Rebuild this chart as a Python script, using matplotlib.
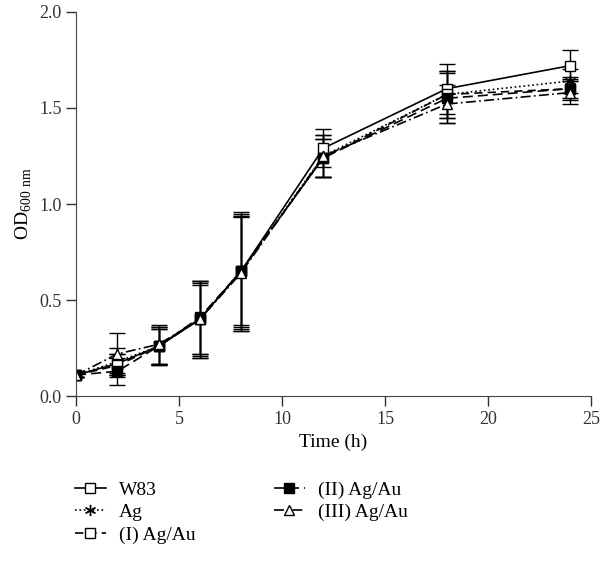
import numpy as np
import matplotlib.pyplot as plt
from matplotlib.lines import Line2D

plt.rcParams['font.family'] = ['Liberation Serif', 'DejaVu Serif']

# growth curve data
time_h = [0, 2, 4, 6, 8, 12, 18, 24]
w83 = [0.11, 0.17, 0.26, 0.40, 0.65, 1.29, 1.60, 1.72]
w83_err = [0.01, 0.05, 0.10, 0.20, 0.30, 0.10, 0.13, 0.08]
ag = [0.11, 0.18, 0.26, 0.40, 0.65, 1.25, 1.57, 1.64]
ag_err = [0.01, 0.07, 0.09, 0.19, 0.29, 0.11, 0.12, 0.06]
ag_au1 = [0.11, 0.16, 0.26, 0.40, 0.65, 1.24, 1.57, 1.60]
ag_au1_err = [0.01, 0.06, 0.09, 0.18, 0.28, 0.10, 0.12, 0.05]
ag_au2 = [0.11, 0.13, 0.26, 0.41, 0.65, 1.24, 1.55, 1.60]
ag_au2_err = [0.01, 0.07, 0.10, 0.19, 0.31, 0.10, 0.13, 0.06]
ag_au3 = [0.11, 0.22, 0.27, 0.40, 0.64, 1.25, 1.52, 1.58]
ag_au3_err = [0.01, 0.11, 0.10, 0.20, 0.30, 0.11, 0.10, 0.06]

fig = plt.figure(figsize=(6, 5.62), dpi=100)
ax = fig.add_axes([0.127, 0.295, 0.858, 0.684])

series = [
    (w83, w83_err, 'W83', '-', 's', 'white'),
    (ag, ag_err, 'Ag', ':', (6, 2, 0), 'black'),
    (ag_au1, ag_au1_err, '(I) Ag/Au', (0, (5, 3)), 's', 'white'),
    (ag_au2, ag_au2_err, '(II) Ag/Au', (0, (6, 3)), 's', 'black'),
    (ag_au3, ag_au3_err, '(III) Ag/Au', (0, (6, 2, 1, 2)), '^', 'white'),
]

handles = []
for vals, err, lab, ls, mk, fc in series:
    ms = 8 if mk == (6, 2, 0) else 7
    ax.errorbar(time_h, vals, yerr=err, color='black', linestyle=ls,
                linewidth=1.2, marker=mk, markersize=ms,
                markerfacecolor=fc, markeredgecolor='black', markeredgewidth=1,
                ecolor='black', elinewidth=1, capsize=6, capthick=1)
    handles.append(Line2D([], [], color='black', linestyle=ls, linewidth=1.2,
                          marker=mk, markersize=ms, markerfacecolor=fc,
                          markeredgecolor='black', label=lab))

ax.set_xlim(0, 25)
ax.set_ylim(0, 2.0)
ax.set_xticks([0, 5, 10, 15, 20, 25])
ax.set_yticks([0.0, 0.5, 1.0, 1.5, 2.0])
ax.set_yticklabels(['0.0', '0.5', '1.0', '1.5', '2.0'])
ax.spines['top'].set_visible(False)
ax.spines['right'].set_visible(False)
for s in ['left', 'bottom']:
    ax.spines[s].set_color('#444444')
ax.tick_params(direction='out', length=7, width=1, labelsize=13, colors='#333333')
ax.set_xlabel('Time (h)', fontsize=14)
ax.set_ylabel(r'OD$_{\mathregular{600\ nm}}$', fontsize=14)

fig.legend(handles=handles, loc='upper left', bbox_to_anchor=(0.095, 0.175), ncol=2,
           frameon=False, fontsize=14, handlelength=1.6, handletextpad=0.7,
           columnspacing=4.0, labelspacing=0.25)

fig.savefig('out.png', dpi=100)
